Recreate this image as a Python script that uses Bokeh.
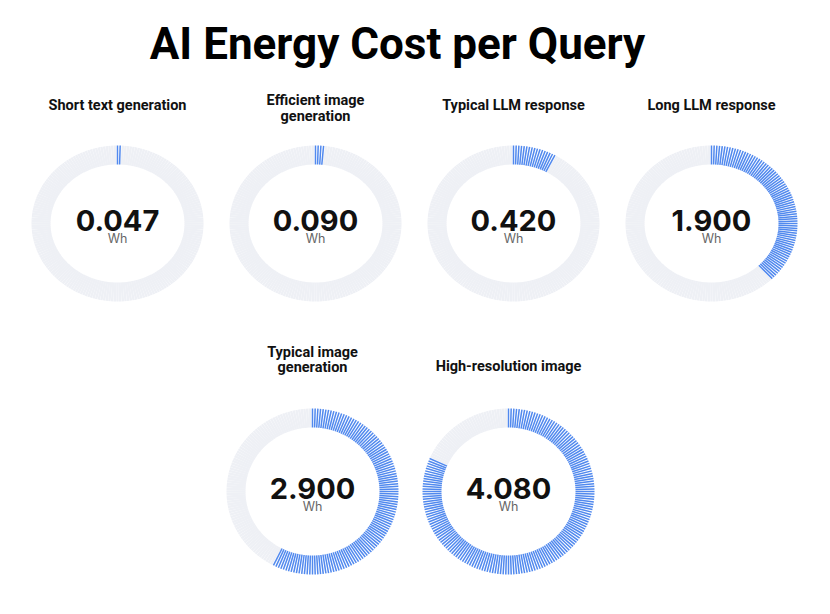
import math
from bokeh.plotting import figure
from bokeh.models import Range1d
from bokeh.core.properties import value
from bokeh.embed import file_html
from bokeh.resources import INLINE

# ---- data ----
chart_title = "AI Energy Cost per Query"
labels = ["Short text generation", "Efficient image generation", "Typical LLM response",
          "Long LLM response", "Typical image generation", "High-resolution image"]
label_lines = [["Short text generation"], ["Efficient image", "generation"], ["Typical LLM response"],
               ["Long LLM response"], ["Typical image", "generation"], ["High-resolution image"]]
values = [0.047, 0.090, 0.420, 1.900, 2.900, 4.080]
max_value = 5.0
unit = "Wh"

# ---- layout (pixels) ----
W, H = 830, 614
centers_x = [117, 315, 513, 711, 312, 508]
centers_y = [223, 223, 223, 223, 491, 491]
radius_y_out = [78, 78, 78, 78, 83, 83]
rx_out, rx_in = 86, 67
ring = 19
label_y = [[105], [100, 116], [105], [105], [352, 367], [366]]
N = 200
BLUE = "#5189ee"
GRAY = "#eef0f5"

p = figure(width=W, height=H, output_backend="svg", toolbar_location=None,
           x_range=Range1d(0, W), y_range=Range1d(H, 0), min_border=0)
p.axis.visible = False
p.grid.visible = False
p.outline_line_color = None
p.background_fill_color = "white"

gx0, gy0, gx1, gy1 = [], [], [], []
bx0, by0, bx1, by1 = [], [], [], []
for g, v in enumerate(values):
    cx, cy = centers_x[g], centers_y[g]
    ryo = radius_y_out[g]
    ryi = ryo - ring
    frac = v / max_value
    for i in range(N):
        a = 2 * math.pi * i / N
        s, c = math.sin(a), math.cos(a)
        pts = (cx + rx_in * s, cy - ryi * c, cx + rx_out * s, cy - ryo * c)
        if i / N < frac:
            bx0.append(pts[0]); by0.append(pts[1]); bx1.append(pts[2]); by1.append(pts[3])
        else:
            gx0.append(pts[0]); gy0.append(pts[1]); gx1.append(pts[2]); gy1.append(pts[3])

p.segment(x0=gx0, y0=gy0, x1=gx1, y1=gy1, line_color=GRAY, line_width=2.4)
p.segment(x0=bx0, y0=by0, x1=bx1, y1=by1, line_color=BLUE, line_width=1.5)

# numbers and unit
p.text(x=centers_x, y=[c - 3 for c in centers_y], text=[f"{v:.3f}" for v in values],
       text_font=value("Inter"), text_font_style="bold", text_font_size="29px",
       text_color="#111111", text_align="center", text_baseline="middle")
p.text(x=centers_x, y=[c + 15 for c in centers_y], text=[unit] * len(values),
       text_font=value("Inter"), text_font_size="12.5px",
       text_color="#666666", text_align="center", text_baseline="middle")

# gauge titles
tx, ty, tt = [], [], []
for g, lines in enumerate(label_lines):
    for ln, yy in zip(lines, label_y[g]):
        tx.append(centers_x[g])
        ty.append(yy)
        tt.append(ln)
p.text(x=tx, y=ty, text=tt, text_font=value("Roboto"), text_font_style="bold",
       text_font_size="14.5px", text_color="#111111", text_align="center", text_baseline="middle")

# chart title
p.text(x=[397], y=[43], text=[chart_title], text_font=value("Roboto"), text_font_style="bold",
       text_font_size="44px", text_color="#000000", text_align="center", text_baseline="middle")

open("out.html", "w").write(file_html(p, INLINE))
